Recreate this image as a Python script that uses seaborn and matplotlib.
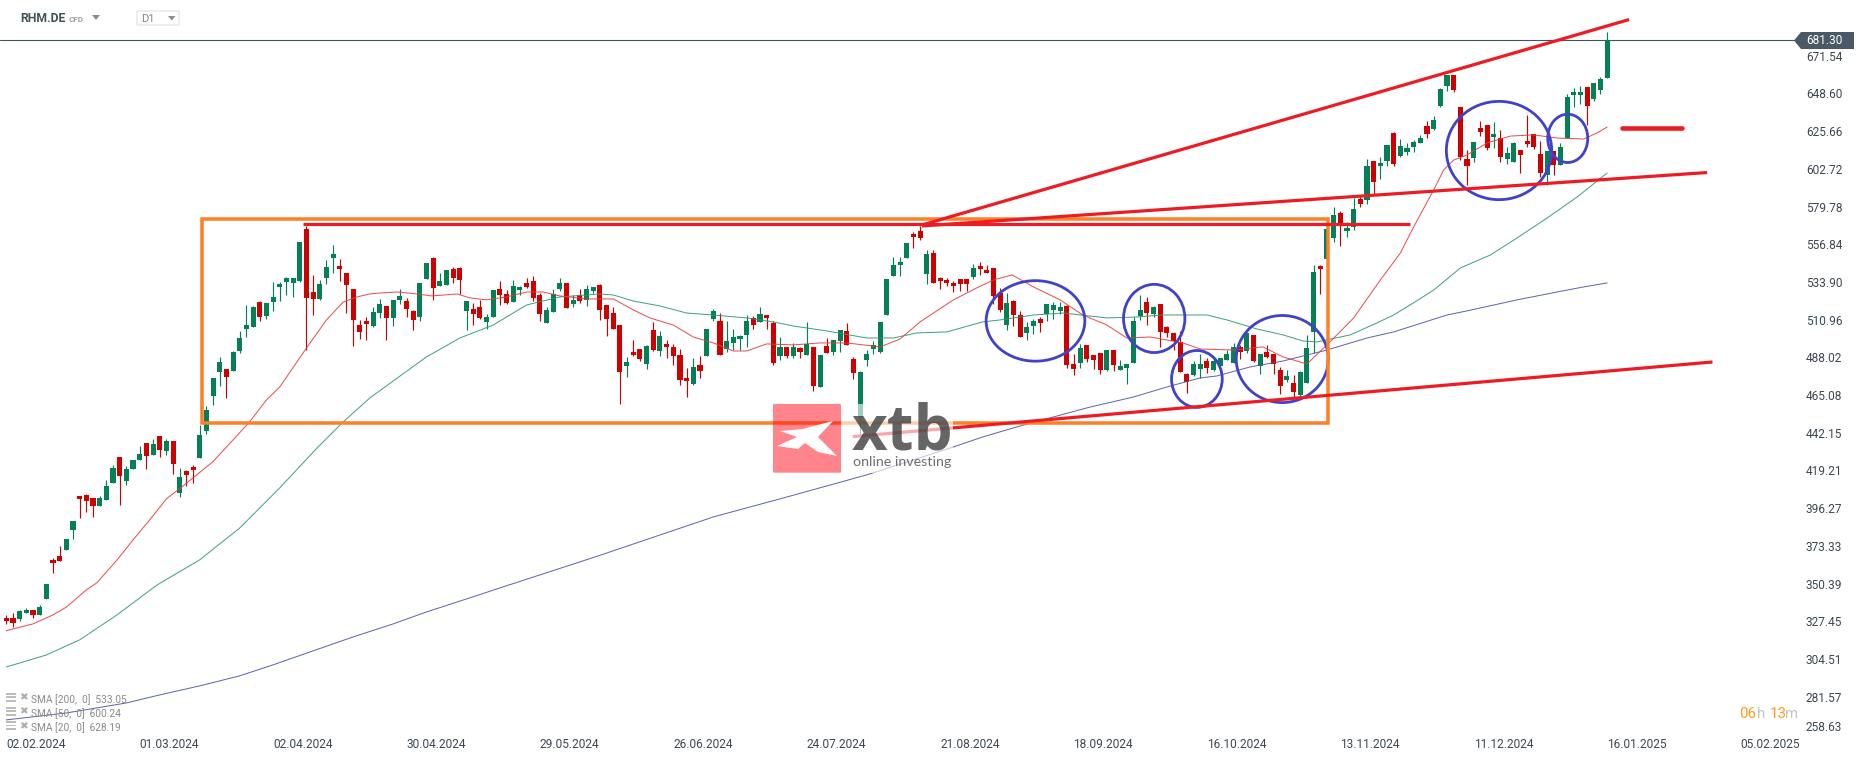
import matplotlib
matplotlib.use("Agg")
import matplotlib.pyplot as plt
from matplotlib.patches import Rectangle, Ellipse, Polygon, FancyBboxPatch
import numpy as np
import seaborn as sns

W, H = 1866, 759
PRICE_TOP, PRICE_BOTTOM = 705.5, 258.2
AX_RIGHT_PX, AX_BOTTOM_PX = 1800, 735

directions = ("rrggrggrrg" "grrrgggrgg" "grgrgrgrrg" "gggrggggrg" "gggggrrggg"
              "rrrrrggrgg" "rrggrggrrg" "rrggrrggrr" "rgggrgrggr" "rrrgrrgrgr"
              "rrrgrggrgg" "ggrgrrgrgr" "grgrggrrgg" "ggggggrrgr" "rrrrrgrrrr"
              "grrggrgggr" "rgrrrgrggg" "grgrrrrrgg" "rggggrgrgr" "rrgrgggrgg"
              "rggrgrggrg" "gggrgggrrr" "grrgrggrrr" "rgrggggrggg")

highs = [331.3,332.3,334.3,335.3,334.3,337.4,350.2,365.8,373.3,377.5,
 388.5,403.7,404.9,402.5,403.7,413.4,422.6,427.4,421.9,425.6,
 434.1,435.9,438.4,440.2,438.4,437.2,420.7,419.5,422.6,446.9,
 458.4,475.5,488.3,481.0,492.0,504.1,519.9,519.3,522.4,521.2,
 533.9,533.9,537.0,536.4,558.3,568.0,538.2,535.2,547.3,556.4,
 547.9,539.4,529.7,510.8,512.6,518.7,523.6,519.3,523.0,529.7,
 524.2,516.9,533.3,545.5,549.2,539.4,541.2,543.1,543.1,522.4,
 521.2,523.0,514.5,529.1,534.6,529.1,535.2,531.5,536.4,537.6,
 527.3,518.7,529.7,536.4,533.3,526.0,529.7,532.1,530.9,532.7,
 519.9,518.7,507.8,488.3,498.6,493.1,495.6,509.6,504.1,498.6,
 496.2,493.1,481.6,487.7,488.9,505.3,517.5,515.1,510.2,505.3,
 501.7,513.8,513.2,518.7,513.8,510.2,500.4,494.4,496.8,494.4,
 509.6,494.4,489.5,499.8,498.6,504.7,509.0,488.3,479.8,492.5,
 498.0,509.6,535.7,549.1,549.1,557.6,564.3,568.0,553.4,553.4,
 537.0,536.3,534.5,535.7,535.7,544.9,546.1,544.3,542.4,530.3,
 527.2,523.0,516.3,509.6,511.4,512.6,520.5,521.7,521.7,519.9,
 490.1,496.2,495.6,489.5,490.7,492.5,492.5,486.5,484.0,512.6,
 526.0,524.8,519.3,520.5,507.1,502.9,504.1,478.5,485.8,490.1,
 487.7,487.7,487.7,492.5,496.8,495.6,502.9,501.7,490.1,495.6,
 490.1,482.2,480.4,477.3,479.8,501.7,544.3,544.3,566.2,579.6,
 577.1,570.4,585.0,586.9,608.8,607.6,610.0,617.3,625.2,620.9,
 618.5,620.3,623.4,631.9,634.9,652.0,659.9,659.9,640.4,614.2,
 619.1,631.9,629.5,631.3,626.4,616.1,619.1,614.2,635.5,624.0,
 619.7,613.6,613.6,618.5,648.3,652.0,653.2,652.6,655.0,658.7,686.0]

body_tops = [329.5,329.5,333.7,334.3,334.1,336.2,350.2,364.8,367.2,377.5,
 388.5,403.7,404.3,402.5,402.5,409.8,420.7,427.4,420.1,425.6,
 429.2,435.9,435.3,440.2,437.2,437.2,415.3,418.9,421.3,440.8,
 456.0,475.5,485.3,481.0,491.3,499.9,507.8,518.7,521.8,521.2,
 524.8,532.7,536.4,536.4,558.3,566.2,527.9,532.7,543.1,551.0,
 543.7,539.4,529.7,507.8,510.2,515.7,520.6,519.3,523.0,525.4,
 522.4,516.3,533.3,545.5,548.5,534.6,541.2,541.9,542.5,522.4,
 517.5,518.7,512.7,529.1,529.7,526.6,531.5,530.9,533.3,534.6,
 526.0,516.9,526.6,533.3,533.3,523.0,526.0,529.7,530.9,532.1,
 519.9,515.1,507.8,485.2,491.3,493.1,495.0,504.7,501.1,496.2,
 494.4,489.5,475.5,482.2,483.4,505.3,516.3,510.2,498.0,500.4,
 501.1,510.2,512.0,514.4,513.8,509.0,494.4,494.4,494.4,493.8,
 496.2,494.4,489.5,495.0,498.6,504.7,504.1,487.1,479.2,490.1,
 495.6,509.6,535.7,544.3,546.1,557.6,563.1,564.9,550.9,551.6,
 536.3,535.1,533.3,535.7,535.7,542.4,543.6,541.2,542.4,527.2,
 521.1,522.4,513.8,506.5,510.2,511.4,520.5,519.9,518.7,519.3,
 484.0,493.8,495.6,489.5,490.7,492.5,492.5,482.8,484.0,510.2,
 516.9,521.7,518.7,520.5,506.5,502.9,497.4,477.9,484.0,484.0,
 485.8,485.8,487.7,490.1,494.4,494.4,502.9,501.7,490.1,491.3,
 490.1,480.4,476.7,472.5,479.2,493.8,540.0,543.6,566.2,574.7,
 575.9,566.8,578.3,584.4,604.5,607.6,606.3,617.3,624.6,616.7,
 615.5,619.1,621.5,628.8,632.5,651.4,659.9,659.9,640.4,608.8,
 619.1,627.6,629.5,624.0,621.5,612.4,618.5,614.2,619.7,624.0,
 611.8,613.6,613.6,616.1,646.5,649.5,649.5,652.6,655.0,657.4,681.3]

body_bottoms = [327.4,326.6,328.9,332.7,331.3,331.3,341.0,362.9,364.1,370.8,
 383.0,401.9,400.7,397.6,397.6,401.3,411.6,415.9,412.8,420.1,
 425.6,428.0,428.6,431.7,431.1,423.2,405.5,416.5,419.5,426.8,
 443.2,464.6,479.2,476.1,479.8,492.0,505.3,506.6,512.6,513.3,
 521.8,530.9,533.9,533.3,534.5,524.2,523.6,523.6,536.4,548.5,
 541.8,532.1,510.8,503.5,508.4,507.2,515.1,512.0,512.0,523.0,
 517.5,510.8,512.7,535.8,530.3,531.5,532.1,536.4,535.2,516.3,
 514.5,512.0,509.6,512.7,526.0,521.2,521.8,529.1,530.9,524.2,
 514.5,509.0,515.7,529.7,518.1,520.6,522.4,523.0,528.5,516.9,
 511.4,505.3,479.2,482.8,489.3,487.1,484.0,492.5,491.9,494.4,
 488.9,474.3,473.7,471.9,479.8,488.9,511.4,489.5,493.1,496.8,
 499.2,501.7,507.8,509.6,512.0,484.6,488.9,488.9,488.9,491.3,
 489.5,470.6,470.0,490.7,491.3,498.0,495.6,478.5,452.0,486.5,
 493.1,491.3,513.8,537.6,544.3,548.5,561.3,560.7,538.8,533.3,
 534.5,533.3,531.5,532.7,532.7,537.0,541.8,539.4,525.4,516.9,
 507.8,513.8,500.4,502.9,507.1,509.0,514.4,516.9,516.3,483.4,
 481.0,484.6,487.1,486.5,480.4,480.4,483.4,480.4,481.6,484.6,
 513.2,515.1,514.4,503.5,502.9,498.0,479.2,473.1,477.3,481.0,
 481.6,480.4,482.8,486.5,484.6,491.3,491.9,485.8,482.8,488.3,
 484.0,470.6,474.3,467.0,465.2,472.5,503.5,541.8,547.9,560.7,
 569.8,565.0,567.4,581.4,583.8,594.8,604.5,607.6,605.7,610.6,
 613.0,616.1,618.5,624.0,627.0,641.0,653.2,650.7,610.0,604.5,
 609.4,625.2,615.5,622.1,610.0,608.8,606.9,611.2,617.9,616.1,
 600.2,599.0,605.1,605.1,621.5,647.7,647.7,641.0,645.3,650.7,658.0]

lows = [325.8,324.0,327.8,332.7,329.5,331.3,341.0,357.0,364.1,370.8,
 377.5,390.3,394.0,390.9,397.6,401.3,411.6,398.2,410.4,420.1,
 425.6,420.1,428.6,427.4,428.6,417.1,403.1,409.8,411.6,426.8,
 441.4,459.1,470.7,463.4,479.8,490.7,500.5,506.6,510.2,511.4,
 516.3,522.4,526.0,524.8,533.9,492.6,513.9,523.0,532.7,539.4,
 534.5,515.1,495.0,499.3,498.7,506.6,512.0,498.7,507.2,520.6,
 512.7,504.7,510.2,535.8,523.0,531.5,532.1,533.3,526.6,504.7,
 507.8,511.4,505.4,512.7,520.0,520.6,521.8,526.0,530.3,522.4,
 510.2,509.0,515.7,528.5,518.1,518.7,521.2,519.3,527.3,510.8,
 501.1,505.3,459.7,476.3,488.9,485.8,481.0,491.9,488.9,487.7,
 483.4,471.2,463.9,471.2,475.5,488.9,510.2,489.5,491.3,492.5,
 492.5,494.4,505.3,509.6,505.3,483.4,486.5,487.7,487.7,487.7,
 489.5,467.6,470.0,490.7,489.5,491.3,495.6,474.9,440.8,482.8,
 490.1,490.7,513.8,537.6,537.6,548.5,554.6,559.5,532.7,533.3,
 529.7,531.5,527.8,528.4,528.4,535.7,538.2,539.4,520.5,515.7,
 504.7,507.1,500.4,498.6,502.3,503.5,510.2,511.4,514.4,481.6,
 477.3,481.6,485.2,481.0,477.9,479.8,479.8,480.4,471.9,484.6,
 510.8,507.8,512.6,494.4,500.4,492.5,479.2,466.4,476.7,475.5,
 478.5,479.8,482.8,486.5,484.6,487.1,490.7,485.2,477.9,487.7,
 477.9,465.8,473.1,463.3,464.6,472.5,490.7,526.6,547.9,558.3,
 555.8,561.3,565.6,579.6,581.4,586.9,596.6,604.5,604.5,610.0,
 611.2,613.0,618.5,621.5,626.4,640.4,650.1,649.5,608.2,592.9,
 606.9,622.8,614.2,615.5,606.9,605.7,606.9,600.2,616.1,614.8,
 597.8,592.9,599.0,605.1,621.5,640.4,642.2,629.5,644.1,648.3,658.0]

sma20_x = [0,4,7,9,12,13.6,16.6,19,21.5,24,27,31,34,36.5,39,41,45,48,50.5,52.6,54.5,56,58.6,61.6,63.8,67.6,69.5,72,75,78,
 80.5,83,87,89,91,94,96.5,100,103,106,109,111,114,118,122,126,131,134,137,139,142,145.5,148,150.8,154,158,161.4,165,168,171.5,
 176.4,179,184,188.4,191.4,195,198,202,206,209,211,214,215.5,217,219,222,225.5,229,232.5,236.5,238.5,240]
sma20_y = [321.7,325.8,331.3,336,346.5,350.9,364.7,376.9,389.1,401.9,411.4,424.6,437.8,448.9,462.1,470,493.7,510.8,521.7,524.8,526.6,527.2,527.8,526.6,525.4,526.6,524.2,523,524.8,527.8,
 527.8,525.4,523.6,523.6,523.6,516.9,512,507.7,500.4,496.8,491.9,491.9,496.2,495.6,496.8,496.8,494.4,499.2,509.6,515,523,530.3,535.1,538.2,530.9,523,513.8,507.7,499.8,500.4,
 496.8,493.1,492.5,494.4,488.3,484,495.6,512,535.1,551.5,567.4,589.9,602.1,608.1,611.2,618.5,622.7,623.4,621.5,620.9,624.6,628.2]

sma50_x = [0,6,11,16.6,22.6,29,35,41,46.6,50.5,54.5,60.5,63,68,73,78,83,89,91,94,98,102,106,111,115,118,123,129,133,136.5,
 141,146.4,149,154,158.5,165,169.5,173.4,180,183,187.5,191.4,194.4,196.5,201.5,205.5,208,211.7,214,218,222.5,226.5,231,235.5,240]
sma50_y = [299.6,306.9,316.1,331.3,349.5,364.8,384.2,408.6,432.9,448.7,463.3,481,488.3,499.8,507.7,519.9,524.8,526.6,526,522.3,519.3,515,513.8,512,509.6,507.1,504.1,499.8,499.8,502.9,
 503.5,509.6,510.8,513.8,515,512,512.6,513.8,513.8,510.8,505.3,501.7,498,497.4,501.7,509,513.8,523,529,542.4,550.3,560.7,572.8,585.6,600.2]

sma200_x = [0,9,18,23,29,35,40,46,52,58,63,69,74,88.3,106,116,129,142,146.4,151,156.5,162.5,169,174,179,181.5,186.5,191.4,198,204,208,216,219,226.5,232.5,236.5,240]
sma200_y = [267.4,271.6,277.7,282.6,288.1,294.2,300.9,309.4,317.9,325.8,333.1,341,347.7,366.6,390.9,401.9,416.5,433.5,439.6,445.1,451.2,457.8,463.9,470,475.5,476.7,482.2,485.8,492.5,499.8,503.5,513.8,516.3,523,527.8,530.9,533.3]

y_ticks = [258.63,281.57,304.51,327.45,350.39,373.33,396.27,419.21,442.15,465.08,488.02,
           510.96,533.90,556.84,579.78,602.72,625.66,648.60,671.54]
x_labels = ["02.02.2024","01.03.2024","02.04.2024","30.04.2024","29.05.2024","26.06.2024","24.07.2024",
            "21.08.2024","18.09.2024","16.10.2024","13.11.2024","11.12.2024","16.01.2025","05.02.2025"]
x_ticks = [0,20,40,60,80,100,120,140,160,180,200,220,240,260]
last_price = 681.30
legend_rows = ["SMA [200,  0]  533.05", "SMA [50,  0]  600.24", "SMA [20,  0]  628.19"]

rect_x = [29.3, 198.2]
rect_y = [447.8, 572.5]
trend_lines = [([44.5,210.5],[569.0,569.0]),
               ([137.3,243.3],[568.6,693.6]),
               ([137.3,255.0],[568.0,600.5]),
               ([126.9,255.8],[439.8,485.2])]
level_x = [242.2, 251.3]
level_y = [627.4, 627.4]
circle_x = [154.3,172.1,178.5,191.3,223.8,234.1]
circle_y = [510.2,511.7,474.9,487.0,613.9,621.3]
circle_w = [14.8,9.2,7.6,13.8,15.8,6.0]
circle_h = [49.0,41.5,34.6,53.0,59.8,29.4]

GREEN, RED = "#048055", "#cf0000"
TXT = "#3d4852"

sns.set_theme(style="white")
plt.rcParams["font.family"] = ["Roboto", "DejaVu Sans"]

fig = plt.figure(figsize=(W/100, H/100), dpi=100)
ax = fig.add_axes([0, 1-AX_BOTTOM_PX/H, AX_RIGHT_PX/W, AX_BOTTOM_PX/H])
ax.set_facecolor("white")
fig.patch.set_facecolor("white")
px = 0.72  # points per pixel

idx = np.arange(len(highs))
colors = [GREEN if d == "g" else RED for d in directions]
tops = np.array(body_tops); bots = np.array(body_bottoms)

ax.vlines(idx, lows, highs, colors=colors, lw=1.15*px, zorder=2)
ax.bar(idx, np.maximum(tops-bots, 1.0), bottom=bots, width=0.76, color=colors, linewidth=0, zorder=3)

for xs, ys, col in [(sma200_x, sma200_y, "#4a55ad"), (sma50_x, sma50_y, "#2b9872"), (sma20_x, sma20_y, "#e23b3f")]:
    sns.lineplot(x=xs, y=ys, ax=ax, color=col, lw=1.0*px, alpha=0.9, estimator=None, sort=False,
                 legend=False, zorder=4)

ax.axhline(last_price, color="#44525e", lw=1.1*px, zorder=1)

for cx, cy, w, h in zip(circle_x, circle_y, circle_w, circle_h):
    ax.add_patch(Ellipse((cx, cy), w, h, fill=False, ec="#4043c9", lw=2.8*px, zorder=5))
ax.add_patch(Rectangle((rect_x[0], rect_y[0]), rect_x[1]-rect_x[0], rect_y[1]-rect_y[0], fill=False,
                       ec="#ff7f27", lw=3.5*px, joinstyle="miter", zorder=6))
for xs, ys in trend_lines:
    ax.plot(xs, ys, color="#ed1c24", lw=3.2*px, solid_capstyle="butt", zorder=7)
ax.plot(level_x, level_y, color="#ed1c24", lw=4.6*px, solid_capstyle="round", zorder=7)

# Axes
ax.set_xlim(-0.945, (AX_RIGHT_PX-6.3)/6.67)
ax.set_ylim(PRICE_BOTTOM, PRICE_TOP)
ax.set_xlabel(""); ax.set_ylabel("")
for s in ax.spines.values():
    s.set_visible(False)
ax.yaxis.tick_right()
ax.set_yticks(y_ticks, [f"{v:.2f}" for v in y_ticks])
ax.set_xticks(x_ticks, x_labels)
ax.tick_params(axis="y", length=0, pad=4.3, labelsize=8.6, labelcolor=TXT)
ax.tick_params(axis="x", length=0, pad=2.5, labelsize=8.6, labelcolor=TXT)
for l in ax.get_xticklabels():
    l.set_ha("left")
ax.get_yticklabels()[0].set_va("bottom")

# Chrome in pixel coordinates
fx = lambda x: x/W
fy = lambda y: 1-y/H
def ptext(x, y, s, **kw):
    kw.setdefault("va", "center")
    kw.setdefault("ha", "left")
    return fig.text(fx(x), fy(y), s, **kw)
def ppoly(pts, **kw):
    fig.add_artist(Polygon([(fx(a), fy(b)) for a, b in pts], closed=True, transform=fig.transFigure, lw=0, **kw))
def prect(x0, y0, x1, y1, **kw):
    fig.add_artist(Rectangle((fx(x0), fy(y1)), (x1-x0)/W, (y1-y0)/H, transform=fig.transFigure, lw=0, **kw))

# Price tag
ppoly([(1794,40.5),(1801,32),(1854,32),(1854,49),(1801,49)], color="#4a5965")
ptext(1806, 41, f"{last_price:.2f}", color="white", fontsize=8.6)

# Header
ptext(20, 18.7, "RHM.DE", color="#44505a", fontsize=8.8, fontweight="bold")
ptext(69, 19.2, "CFD", color="#9aa0a5", fontsize=5.9, fontweight="bold")
ppoly([(92,15),(100,15),(96,20)], color="#8c8c8c")
fig.add_artist(FancyBboxPatch((fx(137), fy(25)), 42/W, 14/H, boxstyle="round,pad=0,rounding_size=0.001",
                              transform=fig.transFigure, fc="white", ec="#e2e2e2", lw=0.8))
ptext(141.5, 19.2, "D1", color="#7d858b", fontsize=8)
ppoly([(168,16),(175.5,16),(171.7,20.5)], color="#8c8c8c")

# Legend rows
for row, (text, yc) in enumerate(zip(legend_rows, [699.3, 713.3, 727.5])):
    for off in (-6.5, -3, 0.5):
        prect(6, yc+off, 16, yc+off+1.9, color="#bdbdbd")
    ptext(23.5, yc-1.5, "✖", color="#adadad", fontsize=7.5, ha="center", family="DejaVu Sans")
    ptext(31, yc, text, color="#8a8a8a", fontsize=7.3)

# Countdown
for x, s, c in [(1739, "06", "#ff9a1f"), (1756.7, "h", "#c4c4c4"), (1769.3, "13", "#ff9a1f"), (1785.3, "m", "#c4c4c4")]:
    ptext(x, 714, s, color=c, fontsize=10.8)

# Watermark
prect(841, 404, 953, 473, color="white", alpha=0.62)
fig.add_artist(FancyBboxPatch((fx(773), fy(472.7)), 68/W, 68.7/H, boxstyle="round,pad=0,rounding_size=0.001",
                              transform=fig.transFigure, fc="#ff0a18", ec="none", alpha=0.5))
ppoly([(833,421),(818,437),(837,456),(818,452),(805,443),(798,449),(777,446),(797,437),(780,431),(803,429),(810,427)],
      color="white")
ptext(852, 450, "xtb", color="#3a3a3a", alpha=0.78, fontsize=44.5, fontweight="bold", va="baseline",
      family=["Open Sans"])
ptext(853, 466, "online investing", color="#555555", alpha=0.85, fontsize=10.3, va="baseline", family=["Lato"])

fig.savefig("out.png", dpi=100)
